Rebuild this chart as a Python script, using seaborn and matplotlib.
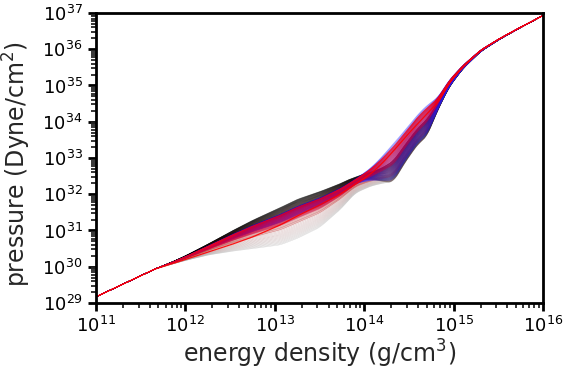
import numpy as np
import pandas as pd
import matplotlib
matplotlib.use("Agg")
import matplotlib.pyplot as plt
import matplotlib.ticker as mticker
import seaborn as sns

# ---- values (log10 units) ----
log_energy = [11.0, 11.3, 11.65, 11.85, 12.0, 12.25, 12.5, 12.75, 13.06, 13.25,
              13.5, 13.73, 13.9, 14.07, 14.2, 14.33, 14.45, 14.6, 14.7, 14.82,
              14.95, 15.1, 15.3, 15.5, 15.7, 16.0]
# upper edge of the band (stiff curves)
log_p_upper = [29.17, 29.52, 29.93, 30.13, 30.30, 30.62, 30.96, 31.28, 31.63, 31.86,
               32.07, 32.29, 32.49, 32.76, 33.05, 33.40, 33.75, 34.20, 34.45, 34.66,
               35.15, 35.55, 35.98, 36.28, 36.55, 36.93]
# lower edge of the band (soft curves)
log_p_lower = [29.17, 29.52, 29.93, 30.07, 30.17, 30.32, 30.42, 30.50, 30.60, 30.78,
               31.08, 31.57, 32.03, 32.22, 32.30, 32.35, 32.85, 33.38, 33.58, 34.30,
               34.95, 35.45, 35.93, 36.25, 36.53, 36.93]
# highlighted red curve
log_p_red = [29.17, 29.52, 29.93, 30.08, 30.20, 30.40, 30.60, 30.82, 31.15, 31.40,
             31.70, 32.00, 32.28, 32.55, 32.85, 33.20, 33.55, 33.95, 34.22, 34.52,
             35.07, 35.50, 35.96, 36.27, 36.54, 36.93]

xlabel = "energy density (g/cm$^3$)"
ylabel = "pressure (Dyne/cm$^2$)"

# ---- fine grid + light smoothing (rendering only) ----
fine = np.linspace(11.0, 16.0, 600)


def smooth_curve(vals, win=13):
    y = np.interp(fine, log_energy, vals)
    pad = win // 2
    ypad = np.concatenate([np.full(pad, y[0]), y, np.full(pad, y[-1])])
    ys = np.convolve(ypad, np.ones(win) / win, mode="valid")
    ys[:pad] = y[:pad]
    ys[-pad:] = y[-pad:]
    return ys


up = smooth_curve(log_p_upper)
lo = smooth_curve(log_p_lower)
red_fine = smooth_curve(log_p_red)
trans = np.clip((fine - 13.8) / 0.5, 0, 1)
trans = trans * trans * (3 - 2 * trans)


def family(name, w_lo, w_hi, n, power=1.0):
    rows = []
    t = np.linspace(0, 1, n) ** power
    for k in range(n):
        a = w_lo[0] + (w_lo[1] - w_lo[0]) * t[k]
        b = w_hi[0] + (w_hi[1] - w_hi[0]) * t[k]
        w = a * (1 - trans) + b * trans
        y = up - w * (up - lo)
        rows.append(pd.DataFrame({"e": 10 ** fine, "p": 10 ** y,
                                  "line": f"{name}{k:03d}"}))
    return pd.concat(rows, ignore_index=True)


sns.set_style("ticks")
plt.rcParams["font.family"] = ["DejaVu Sans"]
fig = plt.figure(figsize=(5.63, 3.71), dpi=100)
ax = fig.add_axes([0.1705, 0.1833, 0.7940, 0.7817])

fams = [
    # name, w at low density, w at high density, n, colours, alpha, lw, power
    ("grey", (0.55, 1.0), (0.78, 1.0), 18, ["#a05050", "#a0a0a0"], 0.45, 0.3, 0.8),
    ("black", (0.0, 0.22), (0.5, 1.0), 55, ["#000000", "#301010"], 0.28, 0.45, 1.0),
    ("brown", (0.22, 0.6), (0.45, 0.85), 35, ["#701010", "#c02020"], 0.35, 0.4, 1.7),
    ("blue", (0.18, 0.4), (0.0, 0.95), 55, ["#0000ff", "#2020ff"], 0.28, 0.45, 1.0),
    ("red", (0.2, 0.48), (0.08, 0.55), 45, ["#ff0010", "#d00040"], 0.33, 0.45, 1.3),
]
for name, wl, wh, n, cols, al, lw, pw in fams:
    df = family(name, wl, wh, n, pw)
    pal = sns.blend_palette(cols, n)
    palette = {f"{name}{k:03d}": pal[k] for k in range(n)}
    sns.lineplot(data=df, x="e", y="p", hue="line", palette=palette,
                 estimator=None, sort=False, lw=lw, alpha=al, legend=False, ax=ax)

# highlighted curve on top
red_df = pd.DataFrame({"e": 10 ** fine, "p": 10 ** red_fine})
sns.lineplot(data=red_df, x="e", y="p", color="red", lw=0.9, ax=ax,
             estimator=None, sort=False, alpha=0.9)

ax.set_xscale("log")
ax.set_yscale("log")
ax.set_xlim(1e11, 1e16)
ax.set_ylim(1e29, 1e37)
ax.xaxis.set_major_locator(mticker.LogLocator(base=10, numticks=20))
ax.yaxis.set_major_locator(mticker.LogLocator(base=10, numticks=20))
ax.xaxis.set_minor_locator(mticker.LogLocator(base=10, subs=np.arange(2, 10), numticks=100))
ax.yaxis.set_minor_locator(mticker.LogLocator(base=10, subs=np.arange(2, 10), numticks=100))
ax.xaxis.set_minor_formatter(mticker.NullFormatter())
ax.yaxis.set_minor_formatter(mticker.NullFormatter())
ax.tick_params(which="major", direction="out", length=6, width=2, labelsize=13,
               colors="black")
ax.tick_params(which="minor", direction="out", length=3.5, width=1.3)
for s in ax.spines.values():
    s.set_linewidth(2)
    s.set_color("black")
ax.set_xlabel(xlabel, fontsize=17, labelpad=1)
ax.set_ylabel(ylabel, fontsize=17, labelpad=2)
ax.yaxis.set_label_coords(-0.142, 0.48)
fig.savefig("out.png", dpi=100)
